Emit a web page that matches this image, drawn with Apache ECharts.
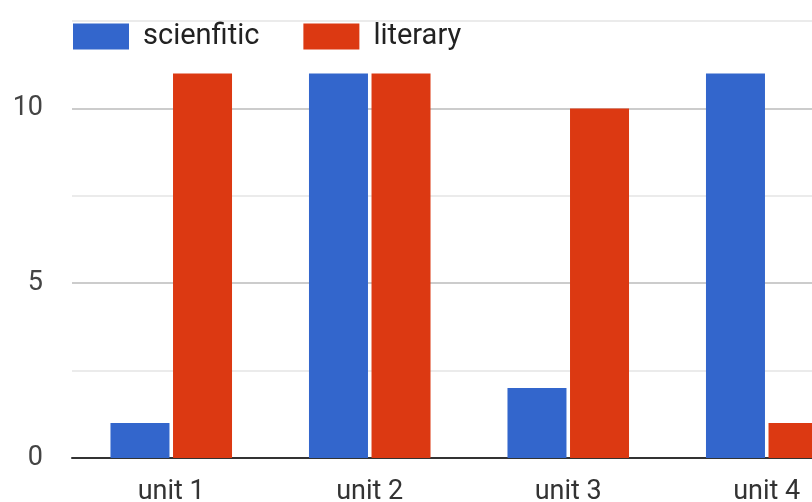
<!DOCTYPE html>
<html>
<head>
<meta charset="utf-8">
<script src="https://cdn.jsdelivr.net/npm/echarts@6/dist/echarts.min.js"></script>
<style>
  html, body { margin: 0; padding: 0; background: #fff; }
  #chart { width: 812px; height: 502px; }
</style>
</head>
<body>
<div id="chart"></div>
<script>
// Units and scores per track
const categories = ['unit 1', 'unit 2', 'unit 3', 'unit 4'];
const scientific = [1, 11, 2, 11];
const literary = [11, 11, 10, 1];
const seriesNames = ['scienfitic', 'literary'];

const chart = echarts.init(document.getElementById('chart'));

chart.setOption({
  animation: false,
  textStyle: { fontFamily: 'Roboto' },
  // plot area runs past the right edge of the canvas
  grid: {
    left: 72, right: -54, top: 21, bottom: 44,
    containLabel: false,
    outerBoundsMode: 'none'
  },
  legend: {
    left: 73,
    top: 22,
    padding: 0,
    itemWidth: 56,
    itemHeight: 26,
    itemGap: 44,
    icon: 'rect',
    textStyle: { fontSize: 29, color: '#222', padding: [0, 0, 0, 9], fontFamily: 'Roboto' },
    data: seriesNames
  },
  xAxis: {
    type: 'category',
    data: categories,
    axisLine: { show: true, lineStyle: { color: '#333', width: 2 } },
    axisTick: { show: false },
    axisLabel: { fontSize: 27, color: '#333', margin: 21 }
  },
  yAxis: {
    type: 'value',
    min: 0,
    max: 12.5,
    interval: 2.5,
    axisLine: { show: false },
    axisTick: { show: false },
    axisLabel: {
      fontSize: 27,
      color: '#444',
      margin: 29,
      formatter: v => (v % 5 === 0 ? String(v) : '')
    },
    splitLine: { lineStyle: { color: ['#cccccc', '#ebebeb'], width: 2 } }
  },
  series: [
    {
      name: seriesNames[0],
      type: 'bar',
      data: scientific,
      barWidth: 59,
      barGap: '6%',
      itemStyle: { color: '#3366cc' }
    },
    {
      name: seriesNames[1],
      type: 'bar',
      data: literary,
      barWidth: 59,
      itemStyle: { color: '#dc3912' }
    }
  ]
});
</script>
</body>
</html>
